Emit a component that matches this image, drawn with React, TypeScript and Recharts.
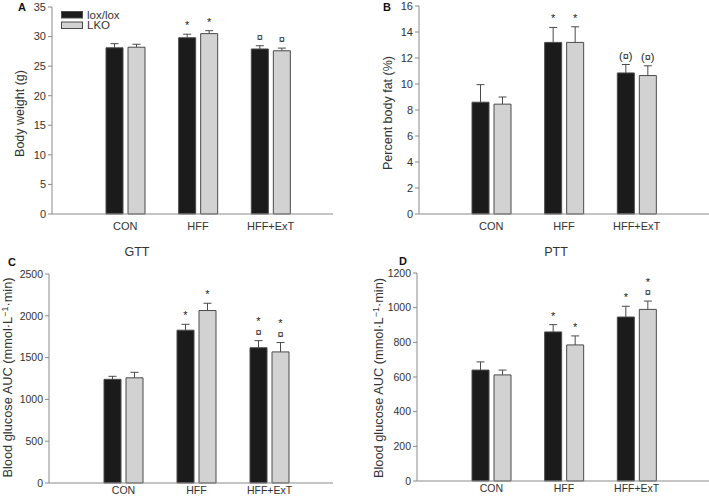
import React from 'react';
import { BarChart, Bar, XAxis, YAxis, Legend, LabelList } from 'recharts';

const categories = ['CON', 'HFF', 'HFF+ExT'];
const seriesNames = ['lox/lox', 'LKO'];

// A - body weight (g)
const bwLox = [28.1, 29.8, 27.9];
const bwLoxErr = [0.7, 0.6, 0.55];
const bwLko = [28.2, 30.5, 27.6];
const bwLkoErr = [0.5, 0.5, 0.45];
const bwLoxSig = ['', '*', '¤'];
const bwLkoSig = ['', '*', '¤'];
const bwTicks = [0, 5, 10, 15, 20, 25, 30, 35];

// B - percent body fat
const fatLox = [8.6, 13.2, 10.85];
const fatLoxErr = [1.35, 1.15, 0.65];
const fatLko = [8.45, 13.2, 10.65];
const fatLkoErr = [0.55, 1.2, 0.75];
const fatLoxSig = ['', '*', '(¤)'];
const fatLkoSig = ['', '*', '(¤)'];
const fatTicks = [0, 2, 4, 6, 8, 10, 12, 14, 16];

// C - GTT AUC
const gttLox = [1240, 1828, 1618];
const gttLoxErr = [36, 70, 85];
const gttLko = [1258, 2063, 1568];
const gttLkoErr = [66, 87, 112];
const gttLoxSig = ['', '*', '*\n¤'];
const gttLkoSig = ['', '*', '*\n¤'];
const gttTicks = [0, 500, 1000, 1500, 2000, 2500];

// D - PTT AUC
const pttLox = [640, 860, 946];
const pttLoxErr = [47, 42, 62];
const pttLko = [612, 785, 990];
const pttLkoErr = [28, 52, 48];
const pttLoxSig = ['', '*', '*'];
const pttLkoSig = ['', '*', '*\n¤'];
const pttTicks = [0, 200, 400, 600, 800, 1000, 1200];

const FONT = '"Liberation Sans", Arial, sans-serif';
const TEXT = '#333';
const AXIS = '#8a8a8a';
const BLACK = '#1b1b1b';
const GREY = '#d2d2d2';
const EDGE = '#4a4a4a';

function rows(lox, loxErr, lko, lkoErr, loxSig, lkoSig) {
  return categories.map((name, i) => ({
    name,
    lox: lox[i],
    loxErr: loxErr[i],
    lko: lko[i],
    lkoErr: lkoErr[i],
    loxSig: loxSig[i],
    lkoSig: lkoSig[i],
  }));
}

// error segment stacked on top of the mean: draw whisker + cap only
const ErrShape = (props: any) => {
  const { x, y, width, height } = props;
  if (x == null || y == null) return null;
  const cx = x + width / 2;
  return (
    <g>
      <line x1={cx} y1={y + height} x2={cx} y2={y} stroke={EDGE} strokeWidth={1} />
      <line x1={cx - 4} y1={y} x2={cx + 4} y2={y} stroke={EDGE} strokeWidth={1} />
    </g>
  );
};

const SigLabel = (props: any) => {
  const vb = props.viewBox || props;
  const { x, y, width } = vb;
  const value = props.value;
  if (!value) return null;
  const lines = String(value).split('\n');
  const cx = x + width / 2;
  return (
    <g>
      {lines.map((t, i) => (
        <text
          key={i}
          x={cx}
          y={y - 5 - (lines.length - 1 - i) * 10.5}
          textAnchor="middle"
          fontSize={11}
          fontFamily={FONT}
          fill="#222"
          style={{ fill: '#222' }}
        >
          {t}
        </text>
      ))}
    </g>
  );
};

const LegendBox = (props: any) => {
  const items = seriesNames
    .map((n) => (props.payload || []).find((p) => p.value === n))
    .filter(Boolean);
  return (
    <svg width={100} height={26} style={{ display: 'block', overflow: 'visible' }}>
      {items.map((p, i) => (
        <g key={p.value}>
          <rect x={0.5} y={0.5 + i * 10.5} width={21} height={6.5} fill={p.color} stroke={EDGE} />
          <text x={26} y={7.5 + i * 10.5} fontSize={11.5} fontFamily={FONT} fill={TEXT}>
            {p.value}
          </text>
        </g>
      ))}
    </svg>
  );
};

function Panel({ data, left, top, width, height, margin, yWidth, xHeight, padding, ticks, tickFont, tickGap, label, labelX, labelDy, legend }: any) {
  const yMax = ticks[ticks.length - 1];
  const yLabel = (p: any) => {
    const vb = p.viewBox;
    const cy = vb.y + vb.height / 2 + labelDy;
    return (
      <text
        x={labelX}
        y={cy}
        transform={`rotate(-90, ${labelX}, ${cy})`}
        textAnchor="middle"
        fontFamily={FONT}
        fontSize={label.size}
        fill={TEXT}
      >
        {label.text}
      </text>
    );
  };
  return (
    <div style={{ position: 'absolute', left, top }}>
      <BarChart width={width} height={height} data={data} margin={margin} barSize={17} barGap={5}>
        <XAxis
          dataKey="name"
          tickLine={false}
          axisLine={{ stroke: AXIS }}
          height={xHeight}
          padding={padding}
          tickSize={tickGap}
          tickMargin={2}
          tick={{ fontSize: tickFont, fontFamily: FONT, fill: TEXT }}
        />
        <YAxis
          width={yWidth}
          domain={[0, yMax]}
          ticks={ticks}
          interval={0}
          axisLine={{ stroke: AXIS }}
          tickLine={{ stroke: AXIS }}
          tickSize={4}
          tickMargin={2}
          tick={{ fontSize: tickFont, fontFamily: FONT, fill: TEXT }}
          label={{ content: yLabel }}
        />
        {legend && (
          <Legend
            layout="vertical"
            align="center"
            verticalAlign="middle"
            wrapperStyle={{ left: 61, top: 11, width: 100, height: 26 }}
            content={LegendBox}
          />
        )}
        <Bar dataKey="lox" name="lox/lox" stackId="k" fill={BLACK} stroke={EDGE} isAnimationActive={false} />
        <Bar dataKey="loxErr" stackId="k" legendType="none" shape={ErrShape} isAnimationActive={false}>
          <LabelList dataKey="loxSig" content={SigLabel} />
        </Bar>
        <Bar dataKey="lko" name="LKO" stackId="g" fill={GREY} stroke={EDGE} isAnimationActive={false} />
        <Bar dataKey="lkoErr" stackId="g" legendType="none" shape={ErrShape} isAnimationActive={false}>
          <LabelList dataKey="lkoSig" content={SigLabel} />
        </Bar>
      </BarChart>
    </div>
  );
}

const aucLabel = (
  <>
    Blood glucose AUC (mmol·L
    <tspan dy={-4} fontSize={9}>−1</tspan>
    <tspan dy={4}>·min)</tspan>
  </>
);

export default function App() {
  return (
    <div style={{ position: 'absolute', left: 0, top: 0, width: 709, height: 500, background: '#fff' }}>
      <Panel
        data={rows(bwLox, bwLoxErr, bwLko, bwLkoErr, bwLoxSig, bwLkoSig)}
        left={0} top={0} width={355} height={240}
        margin={{ top: 7, right: 22, left: 0, bottom: 0 }}
        yWidth={52} xHeight={26} padding={{ left: 37, right: 26 }}
        ticks={bwTicks} tickFont={11} tickGap={6}
        label={{ text: 'Body weight (g)', size: 12.5 }} labelX={24} labelDy={3}
        legend
      />
      <Panel
        data={rows(fatLox, fatLoxErr, fatLko, fatLkoErr, fatLoxSig, fatLkoSig)}
        left={355} top={0} width={354} height={240}
        margin={{ top: 6, right: 0, left: 0, bottom: 0 }}
        yWidth={64} xHeight={26} padding={{ left: 36, right: 36 }}
        ticks={fatTicks} tickFont={11} tickGap={6}
        label={{ text: 'Percent body fat (%)', size: 12.5 }} labelX={37} labelDy={3}
      />
      <Panel
        data={rows(gttLox, gttLoxErr, gttLko, gttLkoErr, gttLoxSig, gttLkoSig)}
        left={0} top={240} width={355} height={260}
        margin={{ top: 34, right: 22, left: 0, bottom: 0 }}
        yWidth={49} xHeight={17} padding={{ left: 38, right: 27 }}
        ticks={gttTicks} tickFont={10.5} tickGap={2}
        label={{ text: aucLabel, size: 12.8 }} labelX={12} labelDy={-1}
      />
      <Panel
        data={rows(pttLox, pttLoxErr, pttLko, pttLkoErr, pttLoxSig, pttLkoSig)}
        left={355} top={240} width={354} height={260}
        margin={{ top: 33, right: 0, left: 0, bottom: 0 }}
        yWidth={62} xHeight={19} padding={{ left: 38, right: 36 }}
        ticks={pttTicks} tickFont={10.5} tickGap={2}
        label={{ text: aucLabel, size: 12.8 }} labelX={28} labelDy={1}
      />
      <svg width={709} height={500} style={{ position: 'absolute', left: 0, top: 0, pointerEvents: 'none' }}>
        <g fontFamily={FONT} fontWeight="bold" fontSize={11} fill="#111">
          <text x={18} y={11}>A</text>
          <text x={383} y={11}>B</text>
          <text x={8} y={266}>C</text>
          <text x={399} y={265}>D</text>
        </g>
        <g fontFamily={FONT} fontSize={12.5} fill={TEXT} textAnchor="middle">
          <text x={137} y={256}>GTT</text>
          <text x={556} y={256}>PTT</text>
        </g>
      </svg>
    </div>
  );
}
